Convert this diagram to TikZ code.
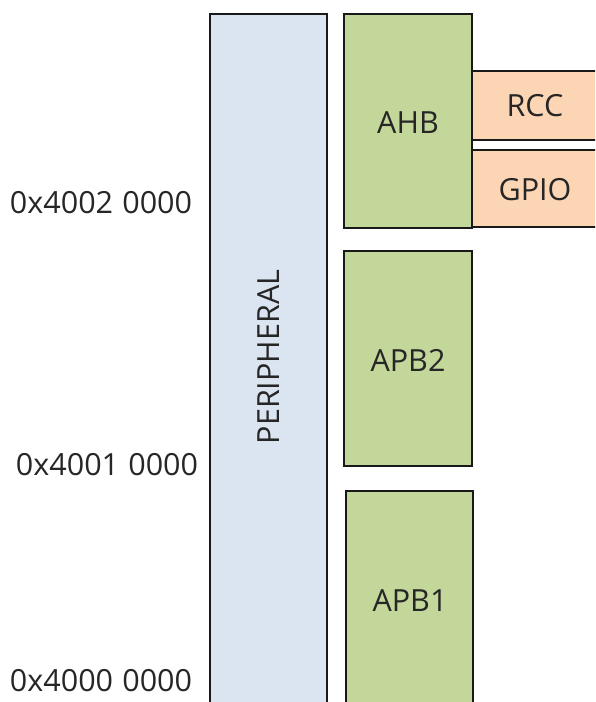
\documentclass[tikz,border=0pt]{standalone}
\usepackage{fontspec}
\setmainfont{Open Sans}
\begin{document}
\begin{tikzpicture}[x=1pt,y=-1pt,
  blk/.style={draw=black!90,line width=1.6pt},
  per/.style={blk,fill={rgb,255:red,219;green,229;blue,241}},
  grn/.style={blk,fill={rgb,255:red,196;green,215;blue,155}},
  org/.style={blk,fill={rgb,255:red,252;green,213;blue,180}},
  lbl/.style={font=\fontsize{30.5}{34}\selectfont,text=black!85,inner sep=0pt}]
\useasboundingbox (0,0) rectangle (595,702);
\clip (0,0) rectangle (595,702);
\draw[per] (210,14) rectangle (327,720);
\node[lbl,rotate=90] (peri) at (268.5,357) {PERIPHERAL};
\draw[grn] (344,14) rectangle (472,228);
\node[lbl] (ahb) at (408,123) {AHB};
\draw[org] (472,71) rectangle (610,140);
\node[lbl] (rcc) at (535,106) {RCC};
\draw[org] (472,150) rectangle (610,227);
\node[lbl] (gpio) at (535,190) {GPIO};
\draw[grn] (344,251) rectangle (472,466);
\node[lbl] (apb2) at (408,360) {APB2};
\draw[grn] (346,491) rectangle (473,720);
\node[lbl] (apb1) at (410,601) {APB1};
\node[lbl] (a2) at (101,203) {0x4002\hspace{0.3em}0000};
\node[lbl] (a1) at (107,465) {0x4001\hspace{0.3em}0000};
\node[lbl] (a0) at (101,681) {0x4000\hspace{0.3em}0000};
\end{tikzpicture}
\end{document}
